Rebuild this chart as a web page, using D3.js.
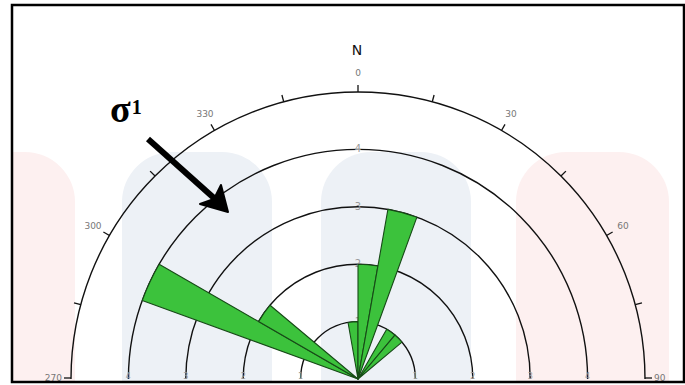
<!DOCTYPE html>
<html><head><meta charset="utf-8">
<script src="https://cdn.jsdelivr.net/npm/d3@7"></script>
<style>body{margin:0;background:#fff}svg{display:block}</style>
</head><body><svg id="c" width="685" height="385"></svg>
<script>
// ---- data ----
const binStart = [290, 300, 350, 0, 10, 30, 40];
const binCount = [4, 2, 1, 2, 3, 1, 1];
const binWidth = 10;
const ringValues = [1, 2, 3, 4, 5];
const ringLabelValues = [1, 2, 3, 4];
const tickAngles = [270, 285, 300, 315, 330, 345, 0, 15, 30, 45, 60, 75, 90];
const labelAngles = [270, 300, 330, 0, 30, 60, 90];
const labelTexts = ["270", "300", "330", "0", "30", "60", "90"];
const northLabel = "N";
const annotationMain = "σ", annotationSup = "1";

// ---- setup ----
const svg = d3.select("#c");
const cx = 358, cy = 379;
const r = d3.scaleLinear().domain([0, 5]).range([0, 287]);
const ang = d3.scaleLinear().domain([0, 360]).range([0, 2 * Math.PI]);
const px = (a, rad) => Math.sin(ang(a)) * rad;
const py = (a, rad) => -Math.cos(ang(a)) * rad;

svg.append("defs").append("clipPath").attr("id", "frameClip")
  .append("rect").attr("x", 12).attr("y", 5).attr("width", 672).attr("height", 377);

// watermark background
const wm = svg.append("g").attr("clip-path", "url(#frameClip)");
const shapes = [
  {x: -100, w: 175, c: "#fdf0f0"},
  {x: 122, w: 150, c: "#edf1f6"},
  {x: 321, w: 150, c: "#edf1f6"},
  {x: 516, w: 153, c: "#fdf0f0"}
];
wm.selectAll("rect").data(shapes).join("rect")
  .attr("x", d => d.x).attr("y", 152).attr("width", d => d.w).attr("height", 400)
  .attr("rx", 50).attr("fill", d => d.c);

const g = svg.append("g").attr("transform", `translate(${cx},${cy})`);

// rings
g.selectAll("path.ring").data(ringValues).join("path").attr("class", "ring")
  .attr("d", v => { const p = d3.path(); p.arc(0, 0, r(v), Math.PI, 2 * Math.PI); return p.toString(); })
  .attr("fill", "none").attr("stroke", "#111").attr("stroke-width", 1.4);

// ring labels
const rl = g.append("g").attr("font-family", "DejaVu Sans, sans-serif").attr("font-size", 10)
  .attr("fill", "#9a9a9a").attr("text-anchor", "middle");
ringLabelValues.forEach(v => {
  rl.append("text").attr("x", 0).attr("y", -r(v) + 3).text(v);
  rl.append("text").attr("x", -r(v)).attr("y", 0).attr("font-size", 8).text(v);
  rl.append("text").attr("x", r(v)).attr("y", 0).attr("font-size", 8).text(v);
});

// wedges
const bins = binStart.map((s, i) => ({s, v: binCount[i]}));
const arc = d3.arc().innerRadius(0).outerRadius(d => r(d.v))
  .startAngle(d => ang(d.s)).endAngle(d => ang(d.s + binWidth));
g.selectAll("path.w").data(bins).join("path").attr("class", "w")
  .attr("d", arc).attr("fill", "#3cc23c").attr("stroke", "#174a17").attr("stroke-width", 1.1)
  .attr("stroke-linejoin", "round");

// ticks
g.selectAll("line.t").data(tickAngles).join("line").attr("class", "t")
  .attr("x1", a => px(a, r(5))).attr("y1", a => Math.min(py(a, r(5)), -1))
  .attr("x2", a => px(a, r(5) + (a === 0 ? 9 : 7))).attr("y2", a => Math.min(py(a, r(5) + 7), -1))
  .attr("stroke", "#111").attr("stroke-width", 1.3);

// angle labels
const lbl = labelAngles.map((a, i) => ({a, t: labelTexts[i]}));
g.selectAll("text.al").data(lbl).join("text").attr("class", "al")
  .attr("font-family", "DejaVu Sans, sans-serif").attr("font-size", 9).attr("fill", "#777")
  .attr("text-anchor", d => d.a === 90 ? "start" : d.a === 270 ? "end" : "middle")
  .attr("dominant-baseline", "middle")
  .attr("x", d => d.a === 90 || d.a === 270 ? px(d.a, r(5) + 9) : px(d.a, r(5) + 19))
  .attr("y", d => d.a === 90 || d.a === 270 ? -1 : py(d.a, r(5) + 19))
  .text(d => d.t);

// North
svg.append("text").attr("x", 357).attr("y", 55).attr("text-anchor", "middle")
  .attr("font-family", "DejaVu Sans, sans-serif").attr("font-size", 14).attr("fill", "#111")
  .text(northLabel);

// sigma annotation
const ann = svg.append("text").attr("x", 110).attr("y", 122)
  .attr("font-family", "Liberation Serif, serif").attr("font-weight", "bold").attr("fill", "#000");
ann.append("tspan").attr("font-size", 38).text(annotationMain);
ann.append("tspan").attr("font-size", 20).attr("dy", -8).attr("dx", 1).text(annotationSup);

// arrow
svg.append("line").attr("x1", 148).attr("y1", 139).attr("x2", 224).attr("y2", 207)
  .attr("stroke", "#000").attr("stroke-width", 6);
svg.append("path").attr("d", "M200,204 L228,212 L221,185 L214,199 Z")
  .attr("fill", "#000").attr("stroke", "#000").attr("stroke-width", 2).attr("stroke-linejoin", "round");

// frame
svg.append("rect").attr("x", 12).attr("y", 5).attr("width", 672).attr("height", 377)
  .attr("fill", "none").attr("stroke", "#000").attr("stroke-width", 2.5);
</script></body></html>
